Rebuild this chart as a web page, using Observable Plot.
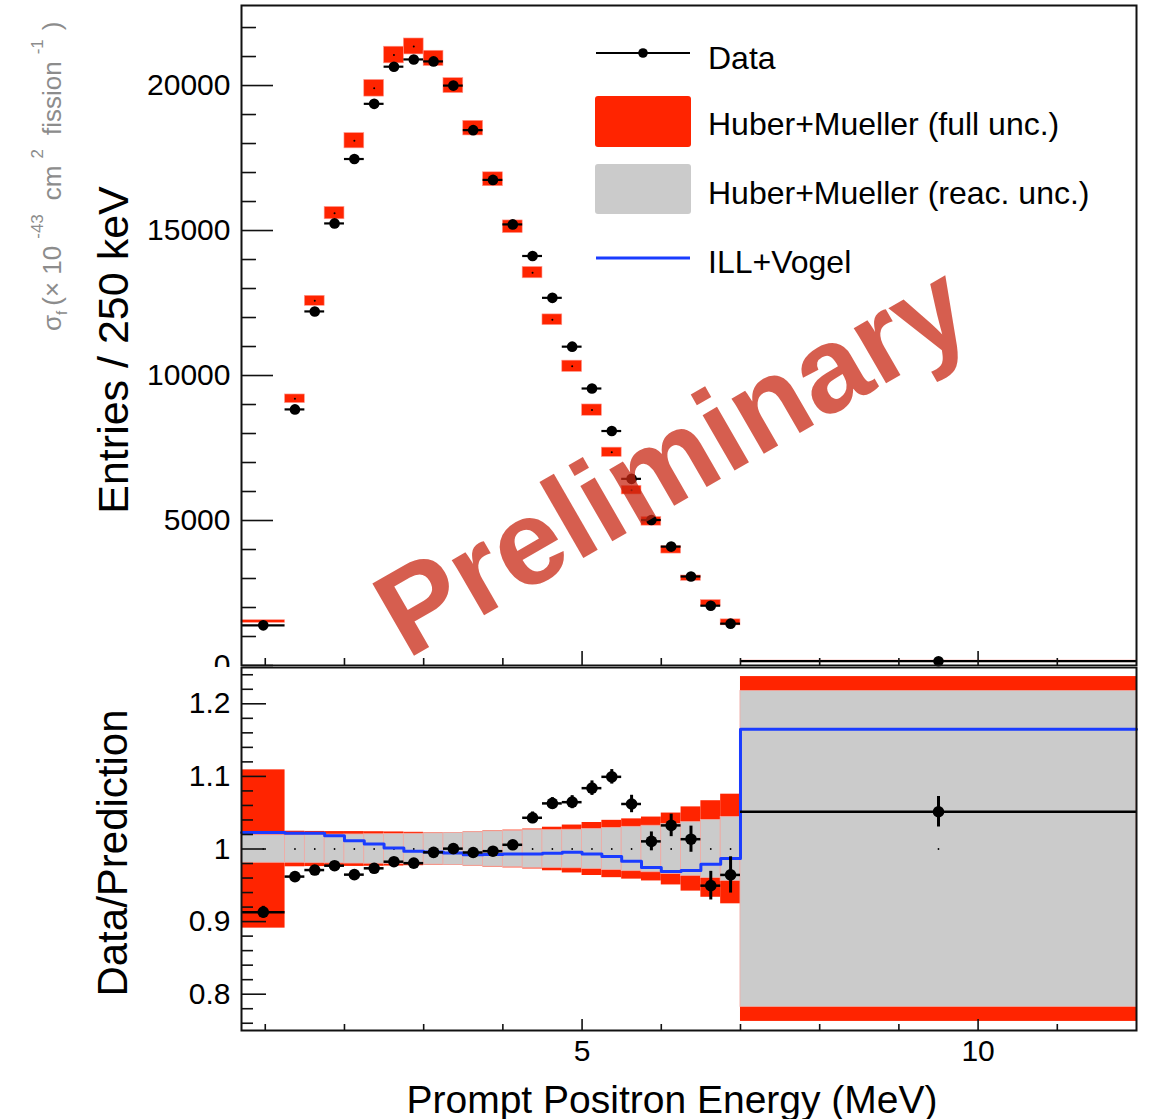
<!DOCTYPE html>
<html><head><meta charset="utf-8">
<script src="https://cdn.jsdelivr.net/npm/d3@7"></script>
<script src="https://cdn.jsdelivr.net/npm/@observablehq/plot@0.6"></script>
<style>
body{margin:0;background:#fff;}
#wrap{position:relative;width:1152px;height:1119px;overflow:hidden;background:#fff;font-family:"Liberation Sans",Arial,Helvetica,sans-serif;}
#wrap > svg{position:absolute;left:0;}
</style></head><body><div id="wrap"></div>
<script>
// ---------- data ----------
const binEdges = [0.7, 1.25, 1.5, 1.75, 2, 2.25, 2.5, 2.75, 3, 3.25, 3.5, 3.75, 4, 4.25, 4.5, 4.75, 5, 5.25, 5.5, 5.75, 6, 6.25, 6.5, 6.75, 7, 12];
const dataCounts = [1385, 8831, 12210, 15245, 17466, 19369, 20650, 20900, 20832, 19998, 18462, 16745, 15211, 14122, 12679, 10995, 9552, 8086, 6437, 5017, 4100, 3069, 2062, 1443, 148];
const predCounts = [1517, 9198, 12576, 15600, 18097, 19905, 21052, 21348, 20936, 19998, 18531, 16768, 15130, 13548, 11923, 10318, 8807, 7353, 6047, 4971, 3986, 3012, 2153, 1488, 141];
const predUnc = [45, 149, 172, 212, 263, 287, 287, 275, 263, 258, 252, 240, 218, 195, 185, 195, 195, 160, 149, 149, 126, 92, 103, 103, 30];
const ratioData = [0.913, 0.962, 0.971, 0.977, 0.9647, 0.9734, 0.9825, 0.9805, 0.9954, 1.0005, 0.9952, 0.997, 1.0058, 1.043, 1.0628, 1.0645, 1.0838, 1.0994, 1.062, 1.0105, 1.0325, 1.0135, 0.9495, 0.9643, 1.0513];
const ratioErr = [0.008, 0.005, 0.005, 0.005, 0.005, 0.005, 0.005, 0.005, 0.005, 0.005, 0.005, 0.006, 0.006, 0.008, 0.008, 0.009, 0.010, 0.010, 0.012, 0.013, 0.0155, 0.018, 0.0197, 0.025, 0.021];
const fullUnc = [0.109, 0.0245, 0.0242, 0.024, 0.024, 0.0238, 0.0235, 0.023, 0.0222, 0.0225, 0.0235, 0.025, 0.026, 0.0275, 0.030, 0.033, 0.0365, 0.0395, 0.0415, 0.044, 0.0495, 0.058, 0.0665, 0.0755, 0.2375];
const reacUnc = [0.019, 0.019, 0.0195, 0.0198, 0.020, 0.0203, 0.0207, 0.021, 0.0215, 0.022, 0.023, 0.0243, 0.025, 0.026, 0.026, 0.0265, 0.0275, 0.029, 0.0305, 0.032, 0.0345, 0.037, 0.040, 0.044, 0.2175];
const illVogel = [1.0229, 1.0216, 1.0216, 1.0183, 1.0115, 1.0069, 1.0014, 0.9968, 0.9958, 0.9945, 0.992, 0.9925, 0.993, 0.993, 0.994, 0.9954, 0.993, 0.9895, 0.983, 0.9745, 0.969, 0.9705, 0.979, 0.987, 1.165];
const topTickValues = [0, 5000, 10000, 15000, 20000];
const ratioTickValues = [0.8, 0.9, 1, 1.1, 1.2];
const xTickValues = [5, 10];
const legendLabels = ["Data", "Huber+Mueller (full unc.)", "Huber+Mueller (reac. unc.)", "ILL+Vogel"];

// ---------- build ----------
const bins = dataCounts.map((d, i) => ({
  lo: binEdges[i], hi: binEdges[i + 1], c: (binEdges[i] + binEdges[i + 1]) / 2,
  data: d, pred: predCounts[i], perr: predUnc[i],
  r: ratioData[i], rerr: ratioErr[i], full: fullUnc[i], reac: reacUnc[i], ill: illVogel[i]
}));
const blueSteps = bins.map(b => ({x: b.lo, v: b.ill})).concat([{x: binEdges[binEdges.length - 1], v: illVogel[illVogel.length - 1]}]);

const FONT = "'Liberation Sans', Arial, Helvetica, sans-serif";
const RED = "#ff2400", GREY = "#cbcbcb", BLUE = "#1a3cff";
const W = 1152, ML = 241, MR = 16, FW = W - ML - MR;
const TOP_H = 667, TOP_MT = 5, TOP_MB = 2, TOP_FH = TOP_H - TOP_MT - TOP_MB;
const BOT_Y = 667, BOT_H = 452, BOT_MT = 0, BOT_MB = 89, BOT_FH = BOT_H - BOT_MT - BOT_MB;

const xInts = d3.range(1, 12).filter(v => !xTickValues.includes(v));
const topMinor = d3.range(1000, 23000, 1000).filter(v => v % 5000 !== 0);
const ratioMinor = d3.range(38, 63).map(k => +(k * 0.02).toFixed(2)).filter(v => v > 0.75 && v < 1.25 && Math.abs(v * 10 - Math.round(v * 10)) > 1e-6);

const topPlot = Plot.plot({
  width: W, height: TOP_H, marginLeft: ML, marginRight: MR, marginTop: TOP_MT, marginBottom: TOP_MB,
  x: {domain: [0.7, 12], axis: null},
  y: {domain: [0, 22760], axis: null},
  style: {fontFamily: FONT, background: "transparent", overflow: "hidden"},
  marks: [
    Plot.rect(bins, {x1: "lo", x2: "hi", y1: d => d.pred - d.perr, y2: d => d.pred + d.perr, fill: RED, stroke: "#ff9a90", strokeWidth: 0.6}),
    Plot.dot(bins, {x: "c", y: "pred", r: 1, fill: "#000"}),
    Plot.ruleY(bins, {y: "data", x1: "lo", x2: "hi", stroke: "#000", strokeWidth: 2.2}),
    Plot.dot(bins, {x: "c", y: "data", r: 5.3, fill: "#000"}),
    Plot.ruleY(topMinor, {y: d => d, insetRight: FW - 15, stroke: "#111", strokeWidth: 1.6}),
    Plot.ruleY(topTickValues, {y: d => d, insetRight: FW - 32, stroke: "#111", strokeWidth: 1.6}),
    Plot.ruleX(xInts, {x: d => d, insetTop: TOP_FH - 7, stroke: "#111", strokeWidth: 1.6}),
    Plot.ruleX(xTickValues, {x: d => d, insetTop: TOP_FH - 14, stroke: "#111", strokeWidth: 1.6}),
    Plot.text(topTickValues, {y: d => d, text: d => String(d), frameAnchor: "left", textAnchor: "end", dx: -11, fontSize: 30, fill: "#000"}),
    Plot.frame({stroke: "#111", strokeWidth: 2}),
    Plot.text(["Preliminary"], {frameAnchor: "middle", dx: -16, dy: 126, rotate: -30, fontSize: 121, fontWeight: "bold", fill: "rgb(200,40,20)", fillOpacity: 0.75})
  ]
});
topPlot.style.top = "0px";

const botPlot = Plot.plot({
  width: W, height: BOT_H, marginLeft: ML, marginRight: MR, marginTop: BOT_MT, marginBottom: BOT_MB,
  x: {domain: [0.7, 12], axis: null},
  y: {domain: [0.75, 1.25], axis: null},
  style: {fontFamily: FONT, background: "transparent", overflow: "hidden"},
  marks: [
    Plot.rect(bins, {x1: "lo", x2: "hi", y1: d => 1 - d.full, y2: d => 1 + d.full, fill: RED}),
    Plot.rect(bins, {x1: "lo", x2: "hi", y1: d => 1 - d.reac, y2: d => 1 + d.reac, fill: GREY, stroke: "#f0aca6", strokeWidth: 0.8}),
    Plot.dot(bins, {x: "c", y: () => 1, r: 0.9, fill: "#000"}),
    Plot.line(blueSteps, {x: "x", y: "v", curve: "step-after", stroke: BLUE, strokeWidth: 3}),
    Plot.ruleY(bins, {y: "r", x1: "lo", x2: "hi", stroke: "#000", strokeWidth: 2.5}),
    Plot.ruleX(bins, {x: "c", y1: d => d.r - d.rerr, y2: d => d.r + d.rerr, stroke: "#000", strokeWidth: 3}),
    Plot.dot(bins, {x: "c", y: "r", r: 5.8, fill: "#000"}),
    Plot.ruleY(ratioMinor, {y: d => d, insetRight: FW - 12, stroke: "#111", strokeWidth: 1.6}),
    Plot.ruleY(ratioTickValues, {y: d => d, insetRight: FW - 25, stroke: "#111", strokeWidth: 1.6}),
    Plot.ruleX(xInts, {x: d => d, insetTop: BOT_FH - 6, stroke: "#111", strokeWidth: 1.6}),
    Plot.ruleX(xTickValues, {x: d => d, insetTop: BOT_FH - 11, stroke: "#111", strokeWidth: 1.6}),
    Plot.text(ratioTickValues, {y: d => d, text: d => String(d), frameAnchor: "left", textAnchor: "end", dx: -11, fontSize: 30, fill: "#000"}),
    Plot.text(xTickValues, {x: d => d, text: d => String(d), frameAnchor: "bottom", lineAnchor: "top", dy: 9, fontSize: 30, fill: "#000"}),
    Plot.frame({stroke: "#111", strokeWidth: 2})
  ]
});
botPlot.style.top = BOT_Y + "px";

const wrap = document.getElementById("wrap");
wrap.appendChild(topPlot);
wrap.appendChild(botPlot);

// ---------- overlay: axis titles, legend ----------
const ns = "http://www.w3.org/2000/svg";
const ov = d3.create("svg").attr("xmlns", ns).attr("width", W).attr("height", 1119)
  .style("position", "absolute").style("top", "0px").style("left", "0px")
  .style("font-family", FONT).style("pointer-events", "none");

ov.append("text").attr("transform", "translate(128,350) rotate(-90)").attr("text-anchor", "middle")
  .attr("font-size", 43).attr("fill", "#000").text("Entries / 250 keV");
ov.append("text").attr("transform", "translate(127,853) rotate(-90)").attr("text-anchor", "middle")
  .attr("font-size", 42).attr("fill", "#000").text("Data/Prediction");
ov.append("text").attr("x", 672).attr("y", 1113).attr("text-anchor", "middle")
  .attr("font-size", 39).attr("fill", "#000").text("Prompt Positron Energy (MeV)");

// grey secondary-axis title fragment
const sg = ov.append("text").attr("transform", "translate(61,331) rotate(-90)")
  .attr("font-size", 26).attr("fill", "#8c8c8c");
sg.append("tspan").text("σ");
sg.append("tspan").attr("font-size", 15).attr("dy", 6).text("f");
sg.append("tspan").attr("dy", -6).attr("dx", 5).text("(× 10");
sg.append("tspan").attr("font-size", 17).attr("dy", -18).attr("dx", 7).text("-43");
sg.append("tspan").attr("dy", 18).attr("dx", 14).text("cm");
sg.append("tspan").attr("font-size", 17).attr("dy", -18).attr("dx", 7).text("2");
sg.append("tspan").attr("dy", 18).attr("dx", 14).text("fission");
sg.append("tspan").attr("font-size", 17).attr("dy", -18).attr("dx", 7).text("-1");
sg.append("tspan").attr("dy", 18).attr("dx", 9).text(")");

// legend
const lg = ov.append("g");
lg.append("line").attr("x1", 596).attr("x2", 690).attr("y1", 53).attr("y2", 53).attr("stroke", "#000").attr("stroke-width", 2.2);
lg.append("circle").attr("cx", 643).attr("cy", 53).attr("r", 4.8).attr("fill", "#000");
lg.append("rect").attr("x", 595).attr("y", 96).attr("width", 96).attr("height", 51).attr("rx", 3).attr("fill", RED);
lg.append("rect").attr("x", 595).attr("y", 164).attr("width", 96).attr("height", 50).attr("rx", 3).attr("fill", GREY);
lg.append("line").attr("x1", 596).attr("x2", 690).attr("y1", 258).attr("y2", 258).attr("stroke", BLUE).attr("stroke-width", 2.8);
const ly = [69, 135, 204, 273];
legendLabels.forEach((t, i) => {
  lg.append("text").attr("x", 708).attr("y", ly[i]).attr("font-size", 32).attr("fill", "#000").text(t);
});
wrap.appendChild(ov.node());
</script>
</body></html>
